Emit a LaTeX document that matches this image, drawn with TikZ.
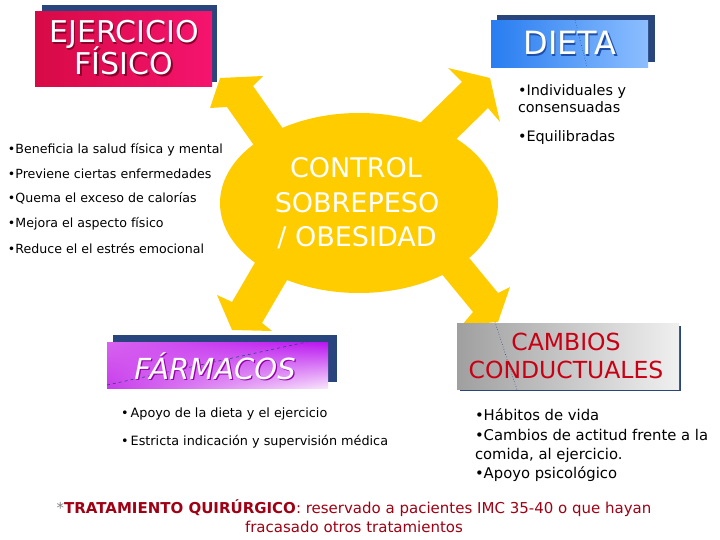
\documentclass[tikz,border=0pt]{standalone}
\usepackage{fontspec}
\usetikzlibrary{shadings}
\setmainfont{DejaVu Sans}
\definecolor{yel}{RGB}{255,204,0}
\definecolor{shadowblue}{RGB}{40,70,125}
\definecolor{crimA}{RGB}{215,10,70}
\definecolor{crimB}{RGB}{245,20,110}
\definecolor{crimS}{RGB}{140,0,45}
\definecolor{blueA}{RGB}{40,125,240}
\definecolor{blueB}{RGB}{140,190,255}
\definecolor{blueS}{RGB}{30,80,170}
\definecolor{magUL}{RGB}{215,100,240}
\definecolor{magUR}{RGB}{185,20,240}
\definecolor{magLL}{RGB}{200,60,235}
\definecolor{magLR}{RGB}{248,228,252}
\definecolor{magS}{RGB}{150,0,170}
\definecolor{cred}{RGB}{200,0,20}
\definecolor{dred}{RGB}{160,0,20}
\newcommand\fsz[1]{\fontsize{#1}{#1}\selectfont}
\begin{document}
\begin{tikzpicture}[x=1pt,y=-1pt,
  every node/.style={inner sep=0pt,outer sep=0pt},
  bul/.style={anchor=base west,text=black},
  ttl/.style={anchor=base,text=white},
  yshape/.style={fill=yel},
  shadowbox/.style={fill=shadowblue},
  selline/.style={draw=shadowblue,dotted,line width=0.6pt}]
\useasboundingbox (0,0) rectangle (720,540);
\fill[white] (0,0) rectangle (720,540);

% central yellow shape
\fill[yshape] (359,203) ellipse [x radius=139pt,y radius=90pt];
\fill[yshape] (220,78) -- (263,76) -- (253,86) -- (293,143) -- (267,164) -- (227,107) -- (210,108) -- cycle;
\fill[yshape] (448,68) -- (490,78) -- (500,122) -- (488,108) -- (438,157) -- (412,131) -- (462,82) -- cycle;
\fill[yshape] (232,330) -- (217,295) -- (232,302) -- (267,242) -- (297,263) -- (262,323) -- (272,331) -- cycle;
\fill[yshape] (498,322) -- (510,287) -- (498,293) -- (447,231) -- (422,250) -- (473,312) -- (462,325) -- cycle;
\node[ttl,font=\fsz{27}] (c1) at (356,178) {CONTROL};
\node[ttl,font=\fsz{27}] (c2) at (357,213) {SOBREPESO};
\node[ttl,font=\fsz{27}] (c3) at (357,247) {/ OBESIDAD};

% EJERCICIO FISICO
\fill[shadowbox] (42,5) rectangle (217,82);
\shade[left color=crimA,right color=crimB] (35,12) rectangle (212,87);
\node[ttl,text=crimS,font=\fsz{30}] (e1s) at (125.5,44.5) {EJERCICIO};
\node[ttl,text=crimS,font=\fsz{30}] (e2s) at (125.5,76.5) {FÍSICO};
\node[ttl,font=\fsz{30}] (e1) at (124,43) {EJERCICIO};
\node[ttl,font=\fsz{30}] (e2) at (124,75) {FÍSICO};

% DIETA
\fill[shadowbox] (497,15) rectangle (655,62);
\shade[left color=blueA,right color=blueB] (491,21) rectangle (648,68);
\draw[selline] (575,20) -- (587,67);
\node[ttl,text=blueS,font=\fsz{32}] (d0) at (571.3,56.3) {DIETA};
\node[ttl,font=\fsz{32}] (d1) at (570,55) {DIETA};

\node[bul,font=\fsz{14.4}] (r1) at (518,96) {•Individuales y};
\node[bul,font=\fsz{14.4}] (r2) at (518,113) {consensuadas};
\node[bul,font=\fsz{14.4}] (r3) at (518,142) {•Equilibradas};

% left list
\node[bul,font=\fsz{12.6}] (l1) at (8,154) {•Beneficia la salud física y mental};
\node[bul,font=\fsz{12.6}] (l2) at (8,178.5) {•Previene ciertas enfermedades};
\node[bul,font=\fsz{12.6}] (l3) at (8,203) {•Quema el exceso de calorías};
\node[bul,font=\fsz{12.6}] (l4) at (8,228) {•Mejora el aspecto físico};
\node[bul,font=\fsz{12.6}] (l5) at (8,253) {•Reduce el el estrés emocional};

% FARMACOS
\fill[shadowbox] (113,335) rectangle (337,382);
\shade[upper left=magUL,upper right=magUR,lower left=magLL,lower right=magLR] (107,342) rectangle (328,388);
\draw[draw=shadowblue,dashed,line width=0.6pt] (107,385) -- (330,337);
\node[ttl,text=magS,font=\fsz{29}\itshape] (f0) at (216.3,380.3) {FÁRMACOS};
\node[ttl,font=\fsz{29}\itshape] (f1) at (215,379) {FÁRMACOS};
\node[bul,font=\fsz{12.8}] (fb1) at (121,417) {•\,Apoyo de la dieta y el ejercicio};
\node[bul,font=\fsz{12.8}] (fb2) at (121,445) {•\,Estricta indicación y supervisión médica};

% CAMBIOS CONDUCTUALES
\fill[shadowbox] (460,326) rectangle (681,391);
\shade[left color=gray!75,middle color=white,right color=gray!12] (457,323) rectangle (679,389);
\draw[selline] (495,322) -- (517,390);
\node[ttl,text=cred,font=\fsz{23.5}] (k1) at (566,350) {CAMBIOS};
\node[ttl,text=cred,font=\fsz{23.5}] (k2) at (566,378) {CONDUCTUALES};
\node[bul,font=\fsz{14.8}] (kb1) at (475,420) {•Hábitos de vida};
\node[bul,font=\fsz{14.8}] (kb2) at (475,440) {•Cambios de actitud frente a la};
\node[bul,font=\fsz{14.8}] (kb3) at (475,459) {comida, al ejercicio.};
\node[bul,font=\fsz{14.8}] (kb4) at (475,478) {•Apoyo psicológico};

% bottom note
\node[anchor=base,text=dred,font=\fsz{15}] (q1) at (354,513) {{\color{gray}*}\textbf{TRATAMIENTO QUIRÚRGICO}: reservado a pacientes IMC 35-40 o que hayan};
\node[anchor=base,text=dred,font=\fsz{15}] (q2) at (354,532) {fracasado otros tratamientos};
\end{tikzpicture}
\end{document}
